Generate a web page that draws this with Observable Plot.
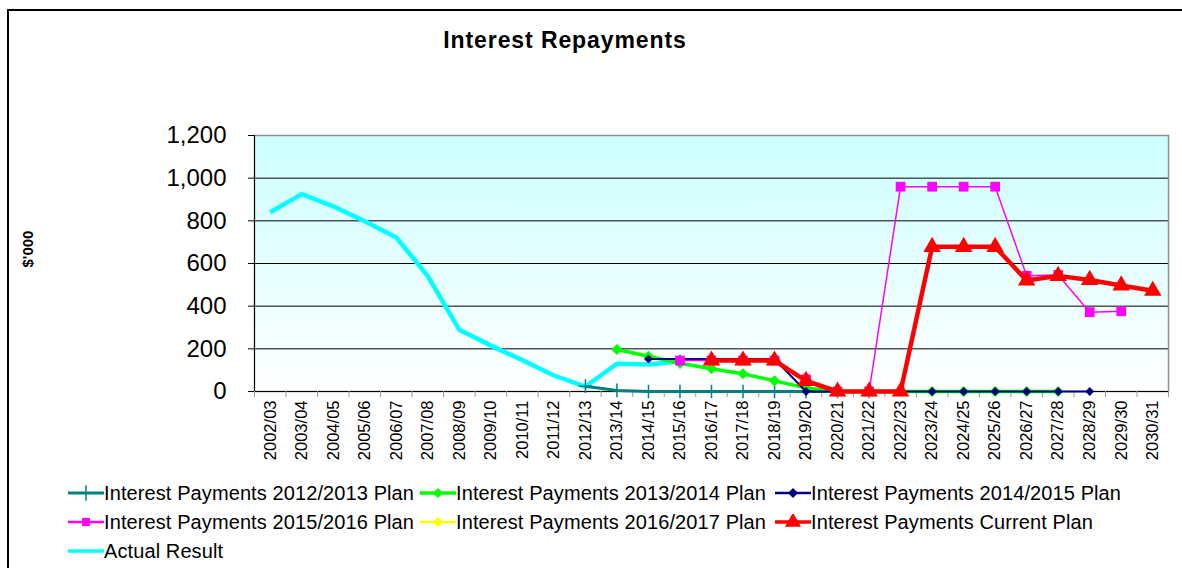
<!DOCTYPE html>
<html>
<head>
<meta charset="utf-8">
<script src="https://cdn.jsdelivr.net/npm/d3@7"></script>
<script src="https://cdn.jsdelivr.net/npm/@observablehq/plot@0.6"></script>
<style>
  html, body { margin: 0; padding: 0; background: #fff; }
  #wrap { position: relative; width: 1182px; height: 568px; overflow: hidden; font-family: "Liberation Sans", Arial, sans-serif; color: #000; }
  #outer { position: absolute; left: 7px; top: 9px; width: 1300px; height: 700px; border: 2px solid #000; box-sizing: border-box; }
  #title { position: absolute; top: 27px; left: 0; width: 1130px; text-align: center; font-weight: bold; font-size: 23px; letter-spacing: 0.9px; }
  #chart { position: absolute; left: 0; top: 0; }
  .leg { position: absolute; font-size: 20px; line-height: 22px; white-space: nowrap; letter-spacing: 0.1px; }
  .sw { position: absolute; }
</style>
</head>
<body>
<div id="wrap">
  <div id="outer"></div>
  <div id="title">Interest Repayments</div>
  <div id="chart"></div>
  <div id="legend"></div>
</div>
<script>
const categories = ["2002/03","2003/04","2004/05","2005/06","2006/07","2007/08","2008/09","2009/10","2010/11","2011/12","2012/13","2013/14","2014/15","2015/16","2016/17","2017/18","2018/19","2019/20","2020/21","2021/22","2022/23","2023/24","2024/25","2025/26","2026/27","2027/28","2028/29","2029/30","2030/31"];

const yTicks = [0, 200, 400, 600, 800, 1000, 1200];

// values aligned to categories (null = no value)
const actualResult = [840,925,868,798,722,541,289,215,147,75,23,130,127,142,null,null,null,null,null,null,null,null,null,null,null,null,null,null,null];
const plan2012_2013 = [null,null,null,null,null,null,null,null,null,null,25,5,0,0,0,0,0,0,0,0,null,null,null,null,null,null,null,null,null];
const plan2013_2014 = [null,null,null,null,null,null,null,null,null,null,null,197,165,132,107,83,50,17,0,0,0,0,0,0,0,0,null,null,null];
const plan2014_2015 = [null,null,null,null,null,null,null,null,null,null,null,null,152,152,152,152,152,0,0,0,0,0,0,0,0,0,0,null,null];
const plan2015_2016 = [null,null,null,null,null,null,null,null,null,null,null,null,null,145,145,145,145,57,0,0,960,960,960,960,542,546,372,376,null];
const plan2016_2017 = [null,null,null,null,null,null,null,null,null,null,null,null,null,null,145,145,145,50,0,0,0,678,678,678,520,542,523,497,472];
const currentPlan   = [null,null,null,null,null,null,null,null,null,null,null,null,null,null,145,145,145,50,0,0,0,678,678,678,520,542,523,497,472];

const seriesNames = [
  "Interest Payments 2012/2013 Plan",
  "Interest Payments 2013/2014 Plan",
  "Interest Payments 2014/2015 Plan",
  "Interest Payments 2015/2016 Plan",
  "Interest Payments 2016/2017 Plan",
  "Interest Payments Current Plan",
  "Actual Result"
];

const seriesStyles = {
  "Actual Result":                    {values: actualResult,  color: "#00FFFF", width: 4.5, symbol: null, r: 0},
  "Interest Payments 2012/2013 Plan": {values: plan2012_2013, color: "#008080", width: 3,   symbol: "plus", r: 4.5},
  "Interest Payments 2013/2014 Plan": {values: plan2013_2014, color: "#00FF00", width: 3.5, symbol: "diamond2", r: 5},
  "Interest Payments 2014/2015 Plan": {values: plan2014_2015, color: "#000080", width: 2,   symbol: "diamond2", r: 4},
  "Interest Payments 2015/2016 Plan": {values: plan2015_2016, color: "#FF00FF", width: 1.5, symbol: "square", r: 5.5},
  "Interest Payments 2016/2017 Plan": {values: plan2016_2017, color: "#FFFF00", width: 2,   symbol: "diamond2", r: 5},
  "Interest Payments Current Plan":   {values: currentPlan,   color: "#FF0000", width: 4.5, symbol: "triangle", r: 6.5}
};

const drawOrder = ["Actual Result", "Interest Payments 2012/2013 Plan", "Interest Payments 2013/2014 Plan", "Interest Payments 2014/2015 Plan", "Interest Payments 2015/2016 Plan", "Interest Payments 2016/2017 Plan", "Interest Payments Current Plan"];

function pts(values) {
  return values.map((v, i) => ({i, v})).filter(d => d.v != null);
}

const seriesMarks = [];
for (const name of drawOrder) {
  const s = seriesStyles[name];
  const data = pts(s.values);
  seriesMarks.push(Plot.line(data, {x: "i", y: "v", stroke: s.color, strokeWidth: s.width, strokeLinejoin: "round", strokeLinecap: "butt"}));
  if (s.symbol) {
    if (s.symbol === "plus") {
      seriesMarks.push(Plot.dot(data, {x: "i", y: "v", symbol: "plus", r: s.r, stroke: s.color, strokeWidth: 1.5, fill: "none"}));
    } else {
      seriesMarks.push(Plot.dot(data, {x: "i", y: "v", symbol: s.symbol, r: s.r, fill: s.color, stroke: "none"}));
    }
  }
}

const chart = Plot.plot({
  width: 1182,
  height: 470,
  marginLeft: 254,
  marginRight: 14,
  marginTop: 135,
  marginBottom: 79,
  style: {fontFamily: "'Liberation Sans', Arial, sans-serif", background: "transparent", color: "#000", overflow: "visible"},
  x: {type: "linear", domain: [-0.5, categories.length - 0.5]},
  y: {domain: [0, 1200]},
  marks: [
    Plot.frame({fill: "url(#bgGrad)", stroke: "none"}),
    Plot.ruleY([200, 400, 600, 800, 1000], {stroke: "#000", strokeWidth: 1}),
    Plot.frame({stroke: "#909090", strokeWidth: 1.5, fill: "none"}),
    Plot.ruleY([0], {stroke: "#000", strokeWidth: 1}),
    Plot.ruleX([-0.5], {stroke: "#000", strokeWidth: 1}),
    Plot.axisY({ticks: yTicks, tickFormat: d3.format(","), tickSize: 6, tickPadding: 22, fontSize: 24, label: null, stroke: "#000"}),
    Plot.axisX({ticks: d3.range(categories.length + 1).map(i => i - 0.5), tickFormat: () => "", tickSize: 6, stroke: "#999", label: null}),
    Plot.axisX({ticks: d3.range(categories.length), tickFormat: i => categories[i], tickRotate: -90, tickSize: 0, tickPadding: 9, fontSize: 16.5, label: null}),
    Plot.text(["$'000"], {frameAnchor: "left", dx: -226, dy: 4, rotate: -90, fontWeight: "bold", fontSize: 15, text: d => d, className: "ylab"}),
    ...seriesMarks
  ]
});

// make sure the axis title has its intended size
d3.select(chart).selectAll("text").filter(function() { return this.textContent === "$'000"; })
  .style("font-size", "15px").style("font-weight", "bold");

// background gradient
const defs = d3.select(chart).insert("defs", ":first-child");
const grad = defs.append("linearGradient").attr("id", "bgGrad").attr("x1", 0).attr("y1", 0).attr("x2", 0).attr("y2", 1);
grad.append("stop").attr("offset", "0%").attr("stop-color", "#CCFFFF");
grad.append("stop").attr("offset", "100%").attr("stop-color", "#FFFFFF");

document.getElementById("chart").appendChild(chart);

// legend
const legendLayout = [
  {name: "Interest Payments 2012/2013 Plan", sx: 68,  tx: 104, y: 493},
  {name: "Interest Payments 2013/2014 Plan", sx: 420, tx: 456, y: 493},
  {name: "Interest Payments 2014/2015 Plan", sx: 775, tx: 811, y: 493},
  {name: "Interest Payments 2015/2016 Plan", sx: 68,  tx: 104, y: 522},
  {name: "Interest Payments 2016/2017 Plan", sx: 420, tx: 456, y: 522},
  {name: "Interest Payments Current Plan",   sx: 775, tx: 811, y: 522},
  {name: "Actual Result",                    sx: 68,  tx: 104, y: 551}
];
const legend = d3.select("#legend");
for (const item of legendLayout) {
  const s = seriesStyles[item.name];
  const svg = legend.append("svg").attr("class", "sw")
    .style("left", item.sx + "px").style("top", (item.y - 8) + "px")
    .attr("width", 36).attr("height", 16);
  svg.append("line").attr("x1", 0).attr("x2", 36).attr("y1", 8).attr("y2", 8)
    .attr("stroke", s.color).attr("stroke-width", Math.max(2.5, Math.min(s.width, 3.5)));
  if (s.symbol) {
    const sym = {plus: d3.symbolPlus, diamond2: d3.symbolDiamond2, square: d3.symbolSquare, triangle: d3.symbolTriangle}[s.symbol];
    const rr = s.symbol === "triangle" ? 6 : (s.symbol === "plus" ? 5 : 4.5);
    const p = svg.append("path").attr("transform", "translate(18,8)")
      .attr("d", d3.symbol(sym, Math.PI * rr * rr)());
    if (s.symbol === "plus") p.attr("fill", "none").attr("stroke", s.color).attr("stroke-width", 1.5);
    else p.attr("fill", s.color);
  }
  legend.append("div").attr("class", "leg")
    .style("left", item.tx + "px").style("top", (item.y - 11) + "px")
    .text(item.name);
}
</script>
</body>
</html>
